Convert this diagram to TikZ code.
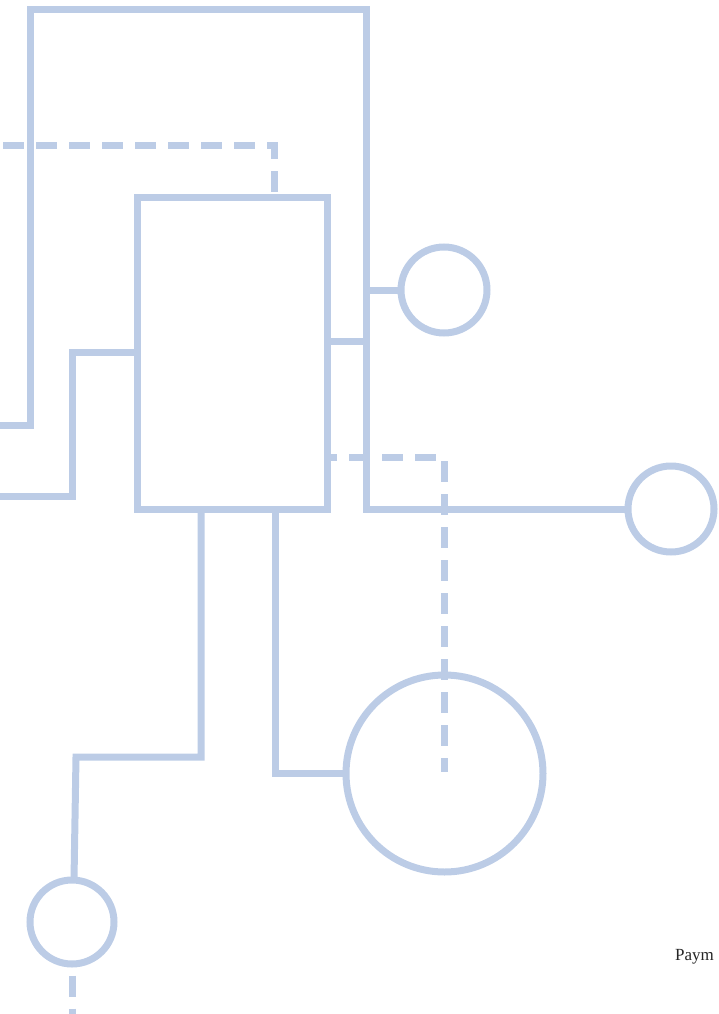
\documentclass[tikz,border=0pt]{standalone}
\usepackage{fontspec}
\setmainfont{Liberation Serif}
\definecolor{wire}{HTML}{BCCCE6}
\begin{document}
\begin{tikzpicture}[x=1pt,y=-1pt,
  wire/.style={draw=wire,line width=7pt},
  dwire/.style={draw=wire,line width=7pt,dash pattern=on 21pt off 12pt},
  ring/.style={circle,draw=wire,line width=7pt,inner sep=0pt,minimum size=#1}]
\useasboundingbox (0,0) rectangle (718,1014);
\clip (0,0) rectangle (718,1014);
% nodes
\node[draw=wire,line width=7pt,minimum width=190pt,minimum height=312pt,inner sep=0pt] (box) at (232,353) {};
\node[ring=86pt] (c1) at (444,290) {};
\node[ring=86pt] (c2) at (671,509) {};
\node[ring=197pt] (c3) at (444.5,773.5) {};
\node[ring=84pt] (c4) at (72,922) {};
\coordinate (fl) at (-5,425);
\coordinate (fb) at (-5,496);
\coordinate (fd) at (0,145);
\coordinate (fe) at (72,1014);
% big frame
\draw[wire] (fl) -- (30,425) -- (30,10) -- (366,10) -- (366,509) -- (c2.west);
% top dashed
\draw[dwire,dash phase=-3pt] (fd) -- (274,145) -- (274,197);
% left link
\draw[wire] (box.west |- 0,352) -- (72,352) -- (72,496) -- (fb);
% circle 1 link
\draw[wire] (366,290) -- (c1.west);
\draw[wire] (327,341) -- (366,341);
% dashed to big circle center
\draw[dwire,dash phase=11pt] (327,457) -- (444,457) -- (444,772);
% bottom links
\draw[wire] (275,509) -- (275,773.5) -- (c3.west);
\draw[wire] (201,509) -- (201,757) -- (76,757) -- (74,880);
\draw[dwire,dash phase=-8pt] (c4.south) -- (fe);
% text
\node[anchor=west,inner sep=0pt,font=\fontsize{17pt}{19pt}\selectfont,text=black!85] (t) at (675,957) {Paym};
\end{tikzpicture}
\end{document}
